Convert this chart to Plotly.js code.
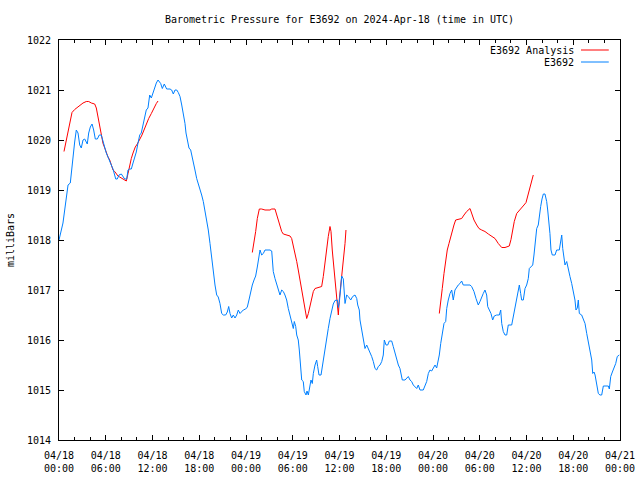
<!DOCTYPE html>
<html>
<head>
<meta charset="utf-8">
<script src="https://cdn.plot.ly/plotly-3.0.1.min.js"></script>
<style>
  html, body { margin: 0; padding: 0; background: #fff; }
  #chart { width: 640px; height: 480px; }
</style>
</head>
<body>
<div id="chart"></div>
<script>
// Hours since 2024-04-18 00:00 UTC
const tickHours = [0, 6, 12, 18, 24, 30, 36, 42, 48, 54, 60, 66, 72];
const tickLabels = ["04/18<br>00:00", "04/18<br>06:00", "04/18<br>12:00", "04/18<br>18:00",
                    "04/19<br>00:00", "04/19<br>06:00", "04/19<br>12:00", "04/19<br>18:00",
                    "04/20<br>00:00", "04/20<br>06:00", "04/20<br>12:00", "04/20<br>18:00",
                    "04/21<br>00:00"];

// E3692 observations
const obsHours = [
  0.00, 0.30, 0.51, 0.73, 0.94, 1.16, 1.45, 1.58, 1.80, 2.01, 2.22, 2.44, 2.66, 2.86, 3.08, 3.30, 3.63, 3.81, 4.02, 4.24,
  4.45, 4.66, 4.92, 5.17, 5.43, 5.65, 5.87, 6.07, 6.29, 6.51, 6.71, 6.93, 7.15, 7.28, 7.48, 7.70, 8.00, 8.21, 8.43, 8.69,
  8.86, 9.07, 9.28, 9.50, 9.72, 9.92, 10.14, 10.36, 10.56, 10.78, 11.00, 11.20, 11.42, 11.64, 11.85, 12.06, 12.28, 12.49, 12.71, 12.92,
  13.05, 13.26, 13.51, 13.82, 14.25, 14.46, 14.67, 14.89, 15.11, 15.31, 15.53, 15.75, 15.95, 16.17, 16.30, 16.47, 16.68, 16.90, 17.11, 17.29,
  17.45, 17.67, 17.88, 18.10, 18.31, 18.52, 18.74, 18.96, 19.16, 19.38, 19.51, 19.64, 19.80, 20.02, 20.24, 20.44, 20.66, 20.88, 21.09, 21.39,
  21.60, 21.78, 21.95, 22.16, 22.37, 22.59, 22.81, 23.01, 23.23, 23.45, 23.65, 23.96, 24.17, 24.38, 24.60, 24.81, 25.03, 25.24, 25.45, 25.67,
  25.80, 26.01, 26.22, 26.44, 27.08, 27.30, 27.43, 27.50, 27.72, 27.94, 28.14, 28.36, 28.58, 28.79, 29.00, 29.22, 29.43, 29.65, 29.86, 30.07,
  30.20, 30.38, 30.51, 30.71, 30.84, 31.02, 31.15, 31.35, 31.48, 31.70, 31.83, 32.00, 32.21, 32.34, 32.51, 32.64, 32.86, 33.07, 33.20, 33.37,
  33.63, 33.84, 34.05, 34.27, 34.43, 34.56, 34.78, 35.00, 35.20, 35.42, 35.72, 35.85, 35.97, 36.15, 36.28, 36.49, 36.62, 36.71, 36.92, 37.13,
  37.44, 37.69, 37.99, 38.21, 38.34, 38.54, 38.63, 38.85, 39.05, 39.27, 39.49, 39.70, 39.91, 40.13, 40.34, 40.56, 40.77, 40.98, 41.20, 41.42,
  41.62, 41.75, 41.97, 42.19, 42.39, 42.70, 42.90, 43.12, 43.34, 43.55, 43.76, 43.89, 44.06, 44.41, 44.62, 44.83, 45.05, 45.26, 45.47, 45.69,
  45.91, 46.11, 46.33, 46.75, 46.97, 47.19, 47.40, 47.61, 47.83, 48.04, 48.26, 48.47, 48.68, 48.81, 48.99, 49.19, 49.41, 49.63, 49.76, 49.96,
  50.18, 50.40, 50.60, 50.82, 51.04, 51.24, 51.46, 51.68, 51.88, 52.75, 52.96, 53.26, 53.52, 53.81, 54.03, 54.25, 54.45, 54.67, 54.89, 55.02,
  55.22, 55.44, 55.66, 55.86, 56.17, 56.51, 56.69, 56.82, 57.02, 57.24, 57.46, 57.66, 58.10, 58.31, 58.52, 58.74, 58.95, 59.08, 59.25, 59.38,
  59.59, 59.81, 60.02, 60.23, 60.36, 60.58, 60.80, 60.96, 61.13, 61.31, 61.51, 61.64, 61.82, 61.99, 62.16, 62.37, 62.59, 62.72, 62.89, 63.01,
  63.14, 63.31, 63.66, 63.87, 64.21, 64.39, 64.52, 64.65, 64.81, 64.94, 65.16, 65.36, 65.58, 65.80, 66.00, 66.22, 66.35, 66.52, 66.65, 66.78,
  67.08, 67.29, 67.51, 67.73, 67.93, 68.15, 68.37, 68.50, 68.67, 68.80, 69.02, 69.22, 69.43, 69.65, 69.86, 70.50, 70.63, 70.81, 71.02, 71.23,
  71.45, 71.65, 71.91
];
const obsPressure = [
  1018.00, 1018.20, 1018.34, 1018.60, 1018.86, 1019.10, 1019.14, 1019.34, 1019.74, 1019.96, 1020.20, 1020.14, 1019.90, 1019.84, 1020.00, 1020.02, 1019.92, 1020.14, 1020.26, 1020.32,
  1020.20, 1020.02, 1020.02, 1020.10, 1020.10, 1019.96, 1019.84, 1019.74, 1019.66, 1019.56, 1019.50, 1019.42, 1019.30, 1019.22, 1019.22, 1019.30, 1019.32, 1019.26, 1019.22, 1019.22,
  1019.40, 1019.42, 1019.42, 1019.54, 1019.66, 1019.76, 1019.94, 1020.10, 1020.14, 1020.30, 1020.44, 1020.60, 1020.64, 1020.90, 1020.84, 1020.94, 1021.06, 1021.14, 1021.20, 1021.14,
  1021.13, 1021.03, 1021.12, 1021.02, 1021.02, 1021.00, 1020.92, 1021.00, 1021.00, 1020.95, 1020.87, 1020.70, 1020.53, 1020.33, 1020.14, 1020.03, 1019.84, 1019.80, 1019.67, 1019.53,
  1019.40, 1019.23, 1019.13, 1019.03, 1018.90, 1018.77, 1018.57, 1018.40, 1018.20, 1017.93, 1017.76, 1017.53, 1017.27, 1017.10, 1016.90, 1016.86, 1016.73, 1016.53, 1016.50, 1016.50,
  1016.56, 1016.67, 1016.53, 1016.44, 1016.50, 1016.44, 1016.50, 1016.60, 1016.53, 1016.56, 1016.60, 1016.62, 1016.66, 1016.80, 1016.96, 1017.10, 1017.20, 1017.28, 1017.46, 1017.70,
  1017.80, 1017.70, 1017.73, 1017.80, 1017.80, 1017.78, 1017.57, 1017.37, 1017.23, 1017.13, 1017.03, 1016.90, 1017.00, 1016.97, 1016.90, 1016.80, 1016.63, 1016.47, 1016.33, 1016.23,
  1016.37, 1016.27, 1016.10, 1016.00, 1015.80, 1015.40, 1015.20, 1015.17, 1014.97, 1014.90, 1014.98, 1014.90, 1015.10, 1015.20, 1015.13, 1015.33, 1015.50, 1015.60, 1015.47, 1015.30,
  1015.30, 1015.53, 1015.73, 1015.90, 1016.07, 1016.23, 1016.43, 1016.60, 1016.72, 1016.79, 1016.80, 1016.65, 1016.75, 1017.03, 1017.28, 1017.22, 1016.97, 1016.73, 1016.90, 1016.87,
  1016.80, 1016.87, 1016.90, 1016.83, 1016.70, 1016.60, 1016.40, 1016.17, 1016.03, 1015.83, 1015.90, 1015.83, 1015.77, 1015.67, 1015.57, 1015.43, 1015.40, 1015.47, 1015.50, 1015.57,
  1015.70, 1016.00, 1015.90, 1015.90, 1015.98, 1015.98, 1015.87, 1015.73, 1015.60, 1015.50, 1015.43, 1015.30, 1015.20, 1015.20, 1015.23, 1015.27, 1015.20, 1015.17, 1015.10, 1015.07,
  1015.03, 1015.10, 1015.00, 1015.00, 1015.07, 1015.17, 1015.33, 1015.40, 1015.38, 1015.43, 1015.50, 1015.44, 1015.57, 1015.70, 1015.93, 1016.17, 1016.33, 1016.37, 1016.63, 1016.80,
  1016.93, 1017.00, 1016.80, 1017.00, 1017.07, 1017.10, 1017.13, 1017.18, 1017.10, 1017.10, 1017.07, 1016.97, 1016.83, 1016.70, 1016.77, 1016.87, 1016.93, 1017.00, 1016.90, 1016.67,
  1016.60, 1016.53, 1016.40, 1016.48, 1016.50, 1016.50, 1016.60, 1016.33, 1016.17, 1016.10, 1016.10, 1016.30, 1016.30, 1016.47, 1016.63, 1016.87, 1017.03, 1017.10, 1016.93, 1016.80,
  1016.80, 1017.03, 1017.10, 1017.23, 1017.43, 1017.47, 1017.50, 1017.70, 1017.93, 1018.23, 1018.30, 1018.50, 1018.67, 1018.82, 1018.92, 1018.92, 1018.77, 1018.60, 1018.37, 1018.13,
  1017.80, 1017.70, 1017.70, 1017.80, 1017.80, 1018.03, 1018.10, 1017.83, 1017.60, 1017.50, 1017.57, 1017.40, 1017.27, 1017.13, 1016.97, 1016.80, 1016.60, 1016.64, 1016.80, 1016.53,
  1016.50, 1016.43, 1016.33, 1016.13, 1015.97, 1015.77, 1015.60, 1015.33, 1015.36, 1015.30, 1015.07, 1014.93, 1014.90, 1014.90, 1015.08, 1015.08, 1015.02, 1015.27, 1015.36, 1015.43,
  1015.53, 1015.67, 1015.70
];

// E3692 Analysis (three runs; null separates them)
const analysisHours = [
  0.64, 0.81, 1.03, 1.24, 1.45, 1.67, 2.01, 2.31, 2.66, 3.08, 3.50, 3.81, 4.15, 4.58, 4.79, 5.01, 5.22, 5.43, 5.65, 5.87,
  6.07, 6.29, 6.51, 6.71, 6.93, 7.15, 7.35, 7.57, 7.79, 8.21, 8.43, 8.64, 8.86, 9.07, 9.28, 9.50, 9.79, 10.05, 10.36, 10.65,
  10.91, 11.20, 11.51, 11.85, 12.15, 12.49, 12.71,
  null,
  24.81, 25.03, 25.24, 25.45, 25.71, 26.01, 26.44, 27.08, 27.30, 27.72, 27.94, 28.14, 28.36, 28.58, 28.79, 29.22, 29.65, 29.86, 30.07, 30.29,
  30.51, 30.71, 30.93, 31.15, 31.35, 31.57, 31.79, 32.00, 32.21, 32.43, 32.64, 32.86, 33.28, 33.71, 33.92, 34.14, 34.36, 34.56, 34.78, 34.91,
  35.07, 35.29, 35.51, 35.72, 35.85, 35.97, 36.15, 36.32, 36.49, 36.71, 36.83,
  null,
  48.81, 48.99, 49.19, 49.41, 49.63, 49.83, 50.05, 50.27, 50.48, 50.69, 50.91, 51.25, 51.68, 51.98, 52.32, 52.75, 52.96, 53.26, 53.61, 53.90,
  54.25, 54.67, 55.10, 55.53, 55.96, 56.38, 56.82, 57.24, 57.79, 58.01, 58.23, 58.43, 58.74, 59.08, 59.38, 59.68, 59.94, 60.15, 60.36, 60.58,
  60.87
];
const analysisPressure = [
  1019.77, 1019.90, 1020.03, 1020.20, 1020.37, 1020.55, 1020.61, 1020.65, 1020.70, 1020.74, 1020.77, 1020.77, 1020.74, 1020.72, 1020.64, 1020.47, 1020.30, 1020.10, 1019.93, 1019.84,
  1019.74, 1019.66, 1019.60, 1019.50, 1019.40, 1019.37, 1019.32, 1019.28, 1019.26, 1019.22, 1019.20, 1019.18, 1019.33, 1019.50, 1019.63, 1019.74, 1019.86, 1019.92, 1020.00, 1020.10,
  1020.20, 1020.33, 1020.43, 1020.53, 1020.64, 1020.73, 1020.78,
  null,
  1017.75, 1017.93, 1018.17, 1018.43, 1018.62, 1018.62, 1018.60, 1018.60, 1018.62, 1018.62, 1018.50, 1018.40, 1018.27, 1018.17, 1018.12, 1018.10, 1018.08, 1018.03, 1017.90, 1017.73,
  1017.57, 1017.40, 1017.20, 1016.97, 1016.80, 1016.60, 1016.43, 1016.53, 1016.70, 1016.83, 1016.97, 1017.03, 1017.05, 1017.07, 1017.27, 1017.57, 1017.83, 1018.07, 1018.27, 1018.17,
  1017.80, 1017.40, 1017.03, 1016.73, 1016.50, 1016.80, 1017.07, 1017.40, 1017.53, 1017.93, 1018.20,
  null,
  1016.53, 1016.73, 1017.03, 1017.33, 1017.60, 1017.80, 1017.93, 1018.07, 1018.20, 1018.30, 1018.40, 1018.41, 1018.43, 1018.50, 1018.57, 1018.63, 1018.53, 1018.40, 1018.30, 1018.23,
  1018.20, 1018.17, 1018.12, 1018.08, 1018.03, 1017.93, 1017.85, 1017.85, 1017.88, 1018.01, 1018.20, 1018.37, 1018.53, 1018.60, 1018.65, 1018.70, 1018.75, 1018.87, 1019.00, 1019.13,
  1019.30
];

const seriesNames = ["E3692 Analysis", "E3692"];
const seriesColors = ["#ff0000", "#0080ff"];

const FONT = "DejaVu Sans Mono, Liberation Mono, monospace";

const traces = [
  { x: analysisHours, y: analysisPressure, type: "scatter", mode: "lines", name: seriesNames[0],
    connectgaps: false, line: { color: seriesColors[0], width: 1 }, showlegend: false },
  { x: obsHours, y: obsPressure, type: "scatter", mode: "lines", name: seriesNames[1],
    line: { color: seriesColors[1], width: 1 }, showlegend: false }
];

// gnuplot-style key: text right-aligned, sample line on the right
const keyRows = [0.975, 0.945];
const annotations = seriesNames.map((n, i) => ({
  xref: "paper", yref: "paper", x: 0.921, y: keyRows[i], xanchor: "right", yanchor: "middle",
  text: n, showarrow: false, font: { family: FONT, size: 10, color: "#000" }
}));
const shapes = seriesNames.map((n, i) => ({
  type: "line", xref: "paper", yref: "paper", x0: 0.9305, x1: 0.980, y0: keyRows[i], y1: keyRows[i],
  line: { color: seriesColors[i], width: 1 }
}));

const layout = {
  width: 640, height: 480,
  margin: { l: 59, r: 20, t: 40, b: 40, pad: 0 },
  paper_bgcolor: "#fff", plot_bgcolor: "#fff",
  font: { family: FONT, size: 10, color: "#000" },
  title: { text: "Barometric Pressure for E3692 on 2024-Apr-18 (time in UTC)",
           font: { family: FONT, size: 10, color: "#000" },
           x: 0.5, xref: "paper", xanchor: "center", y: 1 - 19 / 480, yref: "container", yanchor: "middle" },
  showlegend: false,
  xaxis: {
    range: [0, 72], tickmode: "array", tickvals: tickHours, ticktext: tickLabels,
    ticks: "inside", ticklen: 5, tickwidth: 1, tickcolor: "#000",
    showline: true, linecolor: "#000", linewidth: 1, mirror: "allticks",
    showgrid: false, zeroline: false, ticklabelstandoff: 6,
    minor: { tickmode: "linear", tick0: 0, dtick: 2, ticks: "inside", ticklen: 3, tickcolor: "#000", showgrid: false },
    tickfont: { family: FONT, size: 10, color: "#000" }
  },
  yaxis: {
    range: [1014, 1022], tickmode: "linear", tick0: 1014, dtick: 1, tickformat: "d",
    ticks: "inside", ticklen: 5, tickwidth: 1, tickcolor: "#000",
    showline: true, linecolor: "#000", linewidth: 1, mirror: "allticks",
    showgrid: false, zeroline: false, ticklabelstandoff: 5,
    tickfont: { family: FONT, size: 10, color: "#000" },
    title: { text: "milliBars", font: { family: FONT, size: 10, color: "#000" }, standoff: 10 }
  },
  annotations: annotations,
  shapes: shapes
};

Plotly.newPlot("chart", traces, layout, { staticPlot: true, displayModeBar: false });
</script>
</body>
</html>
